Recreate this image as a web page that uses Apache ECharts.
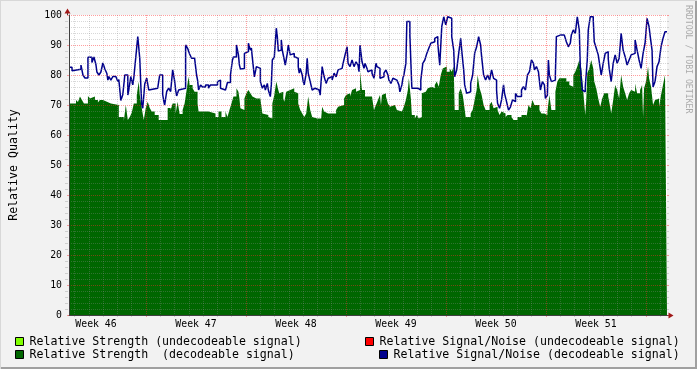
<!DOCTYPE html>
<html><head><meta charset="utf-8">
<script src="https://cdn.jsdelivr.net/npm/echarts@6/dist/echarts.min.js"></script>
<style>html,body{margin:0;padding:0;background:#f2f2f2}#c{width:697px;height:369px}</style>
</head><body><div id="c"></div>
<script>
// RRD consolidated rows: 600 rows spanning 6 weeks (1.68 h per row)
const HOURS_PER_ROW = 1.68;
const TOTAL_ROWS = 600;
const weekLabels = ['Week 46','Week 47','Week 48','Week 49','Week 50','Week 51'];
const yMax = 100, yTickStep = 10, yMinorStep = 2;

// [row, value] – value holds from that row until the next entry
const snrDecodeable = [[0,82.6],[3,81.4],[5,81.9],[12,83.3],[14,80],[16,79],[19,85.9],[23,84.2],[25,86],[27,83.5],[28,81],[30,80],[32,81],[34,84],[36,82],[38,80.5],[39,78.3],[40,79.5],[42,78.3],[44,79.5],[47,80],[49,77.8],[50,78.5],[52,71.5],[54,73.5],[56,80],[59,73.3],[60,75],[62,79.5],[64,76.7],[65,79],[67,85.9],[69,92.8],[71,85.5],[72,77],[73,70],[74,68.9],[76,77],[78,79],[80,75],[82,75.6],[89,76],[91,80],[94,73.5],[95,71.5],[96,70],[98,74.5],[100,75.6],[102,74.5],[104,81.7],[106,78],[107,75],[108,73],[110,75],[112,75.3],[114,75.6],[117,90],[119,88.9],[121,87],[123,85.6],[126,85],[128,80],[129,78.3],[130,75],[132,76.7],[134,76],[137,76.7],[140,75.6],[142,76.7],[149,77.8],[150,78.3],[152,75.6],[154,75],[157,75.6],[159,77.5],[162,80],[164,85],[165,86],[168,90],[170,86.7],[171,83.3],[172,82],[174,82.2],[176,87.2],[178,87.8],[180,90.6],[182,88.3],[183,89],[184,85.6],[186,79.4],[188,82.8],[190,82.2],[192,77.8],[194,75.6],[196,76.7],[197,75],[199,77.2],[200,75],[202,72.8],[203,76.7],[204,85],[206,86],[208,95.6],[209,92.8],[210,88],[212,88.3],[213,91.7],[214,88.3],[216,85],[217,83.3],[219,87.2],[220,90],[222,86.7],[224,87.2],[226,86.1],[228,85.6],[230,82.8],[231,80.6],[232,82.2],[234,80],[235,77.8],[236,76.7],[238,80.6],[239,85.6],[240,80.6],[242,77.8],[244,75],[246,75.6],[247,76],[249,75],[251,74.4],[252,73.3],[254,82.8],[256,79.4],[258,77.2],[260,78.9],[262,79.4],[264,78.3],[266,80.6],[268,79.4],[270,81.7],[272,82.2],[274,81.7],[275,83.9],[277,86.7],[279,89.4],[280,83.9],[282,82.8],[284,85],[286,82.8],[288,84.4],[290,83.3],[291,81.1],[292,90],[294,84.4],[296,82.2],[297,83.9],[299,82.2],[300,81.1],[302,81.7],[304,80.6],[306,78.9],[308,83.9],[309,82.8],[311,82.2],[312,78.9],[314,79.4],[316,80.6],[318,81.7],[320,80],[321,78.3],[323,77.2],[325,78.9],[327,78.3],[329,77.8],[331,76.7],[332,74.4],[334,76.7],[335,78.9],[336,80],[338,83.9],[339,97.8],[342,93.3],[344,75.6],[347,75],[349,75.6],[350,75],[353,78.3],[355,83.9],[357,85],[359,87.2],[361,88.9],[363,90.6],[365,91.1],[367,92.2],[368,92.8],[370,90.6],[372,83.3],[374,96.1],[376,99.4],[378,96.7],[380,99.4],[382,98.9],[384,92.8],[386,88.3],[387,79.4],[389,81.7],[391,87.2],[393,92.2],[394,88.3],[396,81.7],[397,76.7],[399,73.9],[401,74.4],[403,77.2],[405,80],[407,87.2],[409,89.4],[411,92.8],[413,90],[414,86.1],[416,80],[418,78.3],[420,80],[422,78.3],[424,81.7],[426,78.9],[428,78.3],[429,75],[430,70.6],[432,68.9],[434,71.7],[436,76.7],[437,73.9],[439,71.1],[441,68.3],[443,69.4],[445,71.7],[447,71.1],[448,73.9],[450,72.8],[454,75],[456,76.1],[458,75],[460,80],[462,81.1],[464,85],[466,83.9],[467,81.7],[469,82.8],[471,81.1],[473,75],[475,77.8],[477,76.7],[478,72.2],[480,73.3],[481,85],[482,80],[484,77.8],[486,78.3],[488,80],[489,92.8],[491,93.3],[493,92.8],[495,93.3],[497,92.8],[499,91.1],[501,89.4],[503,90.6],[504,93.3],[506,95],[508,93.9],[510,99.4],[512,95],[513,82.8],[515,75],[517,74.4],[518,76.1],[520,85],[521,95],[523,99.4],[526,98.3],[527,91.1],[529,88.9],[531,86.7],[533,82.2],[534,80],[536,83.9],[538,87.2],[540,87.8],[541,85.6],[542,82.2],[544,77.8],[546,83.9],[548,86.7],[550,83.9],[552,85.6],[554,93.9],[556,88.3],[558,86.1],[560,83.3],[562,85],[564,86.7],[566,87.2],[568,91.7],[570,88.3],[572,85],[574,82.2],[576,87.2],[578,90.6],[580,98.9],[582,96.1],[583,93.3],[585,88.3],[586,76],[588,77.8],[590,82.8],[592,84.4],[594,89.4],[596,92.2],[598,94.4],[600,94.4]];

const strengthDecodeable = [[0,70.5],[7,71.7],[9,71],[11,72.8],[13,71.7],[15,70.5],[19,73],[21,72.2],[23,72.8],[26,71.7],[29,70.8],[31,71.7],[34,71.1],[38,70.5],[42,70],[50,66],[55,64.7],[57,70],[59,65],[61,66],[63,67.5],[65,70.5],[68,73.3],[70,77.8],[71,73.3],[73,69],[75,65],[77,69],[79,71.1],[81,69],[83,67.8],[86,66.7],[90,65],[99,69],[102,68.3],[104,70.5],[107,67.2],[109,71.1],[111,67],[114,68.3],[116,70.5],[118,75],[120,79.4],[121,76.7],[124,75.6],[126,74.4],[129,70.5],[130,67.8],[140,67.2],[147,66],[150,67.8],[153,66],[157,67.8],[159,66],[161,68.3],[163,70.5],[165,72.8],[168,75.6],[170,74.4],[171,72.2],[172,68.9],[174,68.3],[176,72.2],[178,73.9],[180,75],[182,73.9],[184,72.8],[186,72.2],[188,72.8],[190,72.2],[192,71.7],[194,67.2],[196,66.7],[200,66],[202,65.5],[204,70.5],[206,73.3],[208,77.8],[210,75],[211,73.9],[213,74.4],[215,72.2],[216,71.1],[218,74.4],[220,75],[222,74.4],[224,75.6],[226,74.4],[228,73.9],[230,70.5],[232,68.3],[234,67.2],[236,66],[238,67.2],[240,72.8],[242,68.3],[244,66],[246,65.5],[249,66],[251,65.5],[253,66],[254,69.4],[256,67.8],[258,67.2],[260,67.8],[262,67.2],[264,67.8],[266,67.2],[268,68.3],[270,69.4],[272,70],[276,72.2],[278,73.3],[280,73.9],[282,72.8],[284,75],[286,75.6],[288,74.4],[290,75],[292,81.1],[294,75],[297,72.8],[300,73.3],[302,72.8],[304,72.2],[306,68.3],[308,70],[310,71.7],[312,73.3],[313,70],[314,73.3],[316,73.9],[318,72.8],[320,70.5],[322,69.4],[324,70],[327,69.4],[329,68.3],[331,67.8],[334,68.3],[336,69.4],[338,71.7],[340,75],[341,78.9],[343,72.2],[344,66.7],[347,65.5],[349,66.7],[351,65.5],[353,66],[354,73.9],[356,74.4],[358,75],[360,75.6],[362,76.1],[364,75.6],[367,76.7],[369,77.8],[371,76.1],[373,80],[375,82.2],[377,82.8],[379,81.1],[382,82.2],[384,81.1],[386,82.8],[387,68.3],[391,73.9],[393,75.6],[395,73.3],[396,71.1],[398,66],[403,67.2],[405,68.3],[407,71.7],[409,75],[410,80],[412,75.6],[414,73.3],[416,70],[418,68.3],[422,70],[424,71.1],[426,68.9],[428,69.4],[430,68.3],[432,66.7],[434,67.8],[436,67.2],[438,66],[440,66.7],[444,66],[446,65],[450,66],[454,66.7],[459,66],[461,70],[463,68.9],[465,71.7],[467,70],[472,68.3],[474,67.2],[477,67.8],[479,66.7],[480,67.8],[482,73.3],[484,68.3],[488,74.4],[490,77.8],[492,78.9],[499,77.8],[502,76.7],[504,76.1],[506,80],[508,81.1],[510,82.8],[512,85],[514,82.2],[516,74.4],[518,66.7],[519,71.7],[520,80.6],[522,82.2],[524,85],[526,82.2],[527,77.8],[529,75.6],[531,72.2],[533,69.4],[535,72.2],[537,73.9],[541,72.8],[543,69.4],[544,67.2],[546,71.7],[548,76.7],[550,75],[552,72.2],[554,80],[556,76.1],[558,73.9],[560,71.7],[562,73.9],[564,75],[566,74.4],[568,77.2],[570,73.9],[573,75],[575,76.7],[576,66],[577,75.6],[579,77.8],[581,82.8],[582,78.9],[584,76.1],[586,70],[588,71.7],[590,72.2],[592,69.4],[594,73.3],[596,76.7],[598,80],[600,80]];

const strengthUndecodeable = [[312,73.8],[313,73.8]];
const snrUndecodeable = [];

const FONT = '"DejaVu Sans Mono", monospace';
const toHours = arr => arr.map(p => [p[0] * HOURS_PER_ROW, p[1]]);
const minorGrid = 'rgba(140,140,140,0.34)';
const majorGrid = 'rgba(255,40,40,0.45)';
const DOT = [1, 1];

// layout constants
const PL = 67, PT = 15, PW = 600, PH = 300;
const WEEK_PX = 100, DAY_PX = WEEK_PX / 7;
const FIRST_WEEK_LINE = 146;                 // pixel of the first week boundary
const FIRST_DAY_LINE = FIRST_WEEK_LINE - 5 * DAY_PX;
const Y_PX = PH / yMax;

const grids = [], xAxes = [], yAxes = [];
const hid = {axisLine:{show:false}, axisLabel:{show:false}, axisTick:{show:false}, splitLine:{show:false}};
function addGrid(g, xa, ya) {
  const gi = grids.length;
  grids.push(g);
  (Array.isArray(xa) ? xa : [xa]).forEach(a => xAxes.push(Object.assign({}, hid, a, {gridIndex: gi})));
  (Array.isArray(ya) ? ya : [ya]).forEach(a => yAxes.push(Object.assign({}, hid, a, {gridIndex: gi})));
  return gi;
}

// 0: main plot
addGrid({left: PL, top: PT, width: PW, height: PH, show: true, backgroundColor: '#ffffff', borderWidth: 0},
  {type: 'value', min: 0, max: TOTAL_ROWS * HOURS_PER_ROW, z: 6, axisLine: {show: true, lineStyle: {color: '#404040', width: 1}}},
  [
    {type: 'value', min: 0, max: yMax, interval: yTickStep, z: 6,
      name: 'Relative Quality', nameLocation: 'middle', nameGap: 49,
      nameTextStyle: {fontFamily: FONT, fontSize: 11.6, color: '#000'},
      axisLine: {show: true, lineStyle: {color: '#404040', width: 1}},
      axisTick: {show: true, length: 2, lineStyle: {color: majorGrid}},
      axisLabel: {show: true, fontFamily: FONT, fontSize: 9.8, color: '#000', margin: 7},
      splitLine: {show: true, lineStyle: {color: majorGrid, width: 1, type: DOT}}},
    {type: 'value', position: 'right', min: 0, max: yMax, interval: yTickStep, z: 5,
      axisTick: {show: true, length: 2, lineStyle: {color: majorGrid}}}
  ]);

// minor day lines (skipping the week boundaries)
[0, 1, 2, 3, 4, 6].forEach(r => {
  addGrid({left: FIRST_DAY_LINE + r * DAY_PX, top: PT, width: 5 * WEEK_PX, height: PH},
    {type: 'value', min: 0, max: 5, interval: 1, z: 4,
      axisTick: {show: true, length: 2, lineStyle: {color: minorGrid}},
      splitLine: {show: true, lineStyle: {color: minorGrid, width: 1, type: DOT}}},
    {type: 'value', show: false, min: 0, max: 1});
});

// week boundaries
addGrid({left: FIRST_WEEK_LINE, top: PT, width: 5 * WEEK_PX, height: PH},
  {type: 'value', min: 0, max: 5, interval: 1, z: 5,
    axisTick: {show: true, length: 2, lineStyle: {color: majorGrid}},
    splitLine: {show: true, lineStyle: {color: majorGrid, width: 1, type: DOT}}},
  {type: 'value', show: false, min: 0, max: 1});

// week labels, centred between boundaries
addGrid({left: FIRST_WEEK_LINE - WEEK_PX / 2, top: PT, width: 5 * WEEK_PX, height: PH},
  {type: 'value', min: 0, max: weekLabels.length - 1, interval: 1, z: 6,
    axisLabel: {show: true, formatter: v => weekLabels[v] || '', fontFamily: FONT, fontSize: 9.8, color: '#000', margin: 4}},
  {type: 'value', show: false, min: 0, max: 1});

// minor horizontal lines (skipping multiples of 10)
[2, 4, 6, 8].forEach(v => {
  const topVal = v + yMax - yTickStep;            // highest line of this residue
  addGrid({left: PL, top: PT + (yMax - topVal) * Y_PX, width: PW, height: (topVal - v) * Y_PX},
    {type: 'value', show: false, min: 0, max: 1},
    [
      {type: 'value', min: 0, max: 9, interval: 1, z: 4,
        axisTick: {show: true, length: 2, lineStyle: {color: minorGrid}},
        splitLine: {show: true, lineStyle: {color: minorGrid, width: 1, type: DOT}}},
      {type: 'value', position: 'right', min: 0, max: 9, interval: 1, z: 4,
        axisTick: {show: true, length: 2, lineStyle: {color: minorGrid}}}
    ]);
});

const legendBase = {
  padding: 0, icon: 'rect', itemWidth: 8, itemHeight: 8, itemGap: 0, selectedMode: false,
  textStyle: {fontFamily: FONT, fontSize: 11.6, color: '#000', lineHeight: 13, padding: [0,0,0,1]},
  itemStyle: {borderColor: '#000', borderWidth: 1}
};

const chart = echarts.init(document.getElementById('c'), null, {renderer: 'canvas'});
chart.setOption({
  animation: false,
  backgroundColor: '#f2f2f2',
  grid: grids,
  xAxis: xAxes,
  yAxis: yAxes,
  legend: [
    Object.assign({}, legendBase, {data: ['Relative Strength (undecodeable signal)'], left: 15, top: 335}),
    Object.assign({}, legendBase, {data: ['Relative Strength  (decodeable signal)'], left: 15, top: 348}),
    Object.assign({}, legendBase, {data: ['Relative Signal/Noise (undecodeable signal)'], left: 365, top: 335}),
    Object.assign({}, legendBase, {data: ['Relative Signal/Noise (decodeable signal)'], left: 379, top: 348})
  ],
  series: [
    {name: 'Relative Strength (undecodeable signal)', type: 'line', step: 'end', xAxisIndex: 0, yAxisIndex: 0,
      data: toHours(strengthUndecodeable), symbol: 'none', z: 1,
      lineStyle: {width: 0}, areaStyle: {color: '#80ff00', opacity: 1}, itemStyle: {color: '#80ff00'}},
    {name: 'Relative Strength  (decodeable signal)', type: 'line', step: 'end', xAxisIndex: 0, yAxisIndex: 0,
      data: toHours(strengthDecodeable), symbol: 'none', z: 2,
      lineStyle: {width: 0}, areaStyle: {color: '#006600', opacity: 1}, itemStyle: {color: '#006600'}},
    {name: 'Relative Signal/Noise (undecodeable signal)', type: 'line', xAxisIndex: 0, yAxisIndex: 0,
      data: snrUndecodeable, symbol: 'none', itemStyle: {color: '#ff0000'}, lineStyle: {color: '#ff0000'}},
    {name: 'Relative Signal/Noise (decodeable signal)', type: 'line', step: 'end', xAxisIndex: 0, yAxisIndex: 0,
      data: toHours(snrDecodeable), symbol: 'none', z: 3,
      lineStyle: {width: 1.5, color: '#00008c'}, itemStyle: {color: '#00008c'}}
  ],
  graphic: [
    {type: 'line', silent: true, shape: {x1: 67.5, y1: 11, x2: 67.5, y2: 15}, style: {stroke: '#404040', lineWidth: 1}},
    {type: 'polygon', silent: true, shape: {points: [[64.5, 13.5], [70.5, 13.5], [67.5, 8.5]]}, style: {fill: '#a01818'}},
    {type: 'line', silent: true, shape: {x1: 667, y1: 315.5, x2: 670, y2: 315.5}, style: {stroke: '#404040', lineWidth: 1}},
    {type: 'polygon', silent: true, shape: {points: [[668.5, 312.5], [668.5, 318.5], [673.5, 315.5]]}, style: {fill: '#a01818'}},
    {type: 'text', silent: true, x: 688, y: 5, rotation: -Math.PI / 2,
      style: {text: 'RRDTOOL / TOBI OETIKER', font: '8.2px "DejaVu Sans Mono"', fill: '#ababab', textAlign: 'left', textVerticalAlign: 'middle'}},
    {type: 'rect', silent: true, shape: {x: 0, y: 367, width: 697, height: 2}, style: {fill: '#a0a0a0'}},
    {type: 'rect', silent: true, shape: {x: 695, y: 0, width: 2, height: 369}, style: {fill: '#a0a0a0'}},
    {type: 'rect', silent: true, shape: {x: 0, y: 0, width: 697, height: 1}, style: {fill: '#d8d8d8'}},
    {type: 'rect', silent: true, shape: {x: 0, y: 0, width: 1, height: 369}, style: {fill: '#d8d8d8'}}
  ]
});
</script>
</body></html>
